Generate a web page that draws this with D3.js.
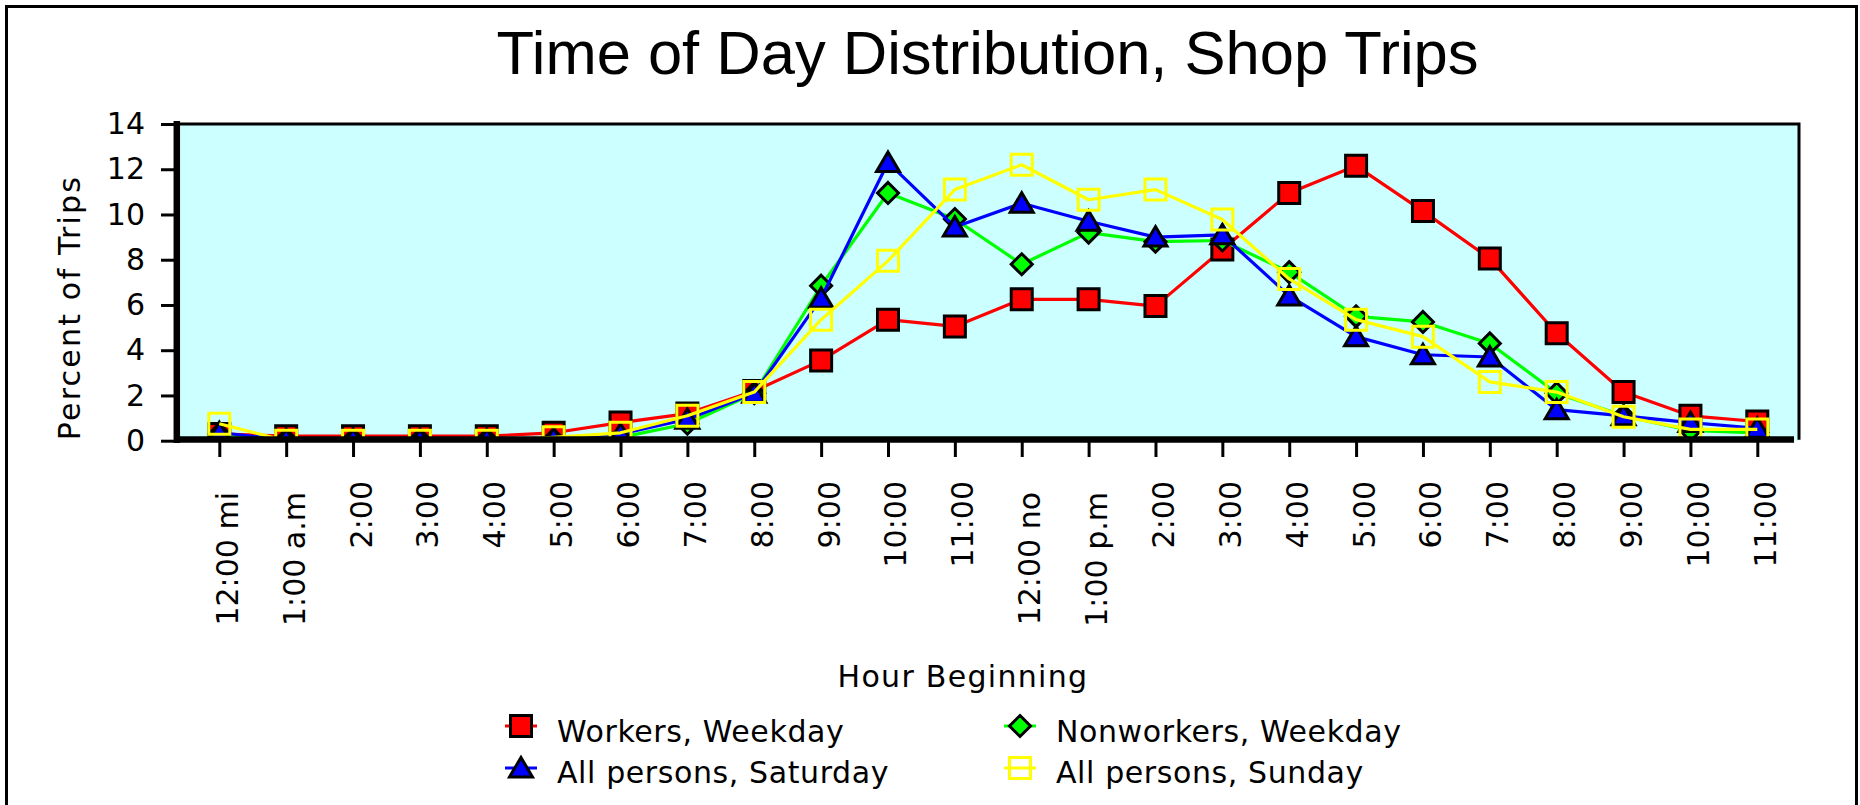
<!DOCTYPE html>
<html>
<head>
<meta charset="utf-8">
<script src="https://cdn.jsdelivr.net/npm/d3@7"></script>
<style>
  html, body { margin: 0; padding: 0; background: #fff; }
  svg { display: block; }
</style>
</head>
<body>
<svg id="chart" width="1860" height="805"></svg>
<script>
// ---------------- DATA ----------------
const hourLabels = ["12:00 mi","1:00 a.m","2:00","3:00","4:00","5:00","6:00","7:00","8:00","9:00","10:00","11:00",
                    "12:00 no","1:00 p.m","2:00","3:00","4:00","5:00","6:00","7:00","8:00","9:00","10:00","11:00"];
const workersWeekday    = [0.3, 0.2, 0.2, 0.2, 0.2, 0.35, 0.8, 1.2, 2.2, 3.55, 5.35, 5.05, 6.25, 6.25, 5.95, 8.45, 10.95, 12.15, 10.15, 8.05, 4.75, 2.15, 1.1, 0.85];
const nonworkersWeekday = [0.3, 0.05, 0.05, 0.05, 0.05, 0.05, 0.15, 0.75, 2.1, 6.85, 10.95, 9.8, 7.8, 9.2, 8.8, 8.85, 7.45, 5.5, 5.25, 4.3, 2.1, 1.1, 0.45, 0.35];
const allSaturday       = [0.35, 0.05, 0.05, 0.05, 0.05, 0.1, 0.3, 0.95, 2.1, 6.3, 12.3, 9.45, 10.5, 9.7, 9.0, 9.1, 6.4, 4.6, 3.8, 3.7, 1.37, 1.1, 0.8, 0.55];
const allSunday         = [0.75, 0.0, 0.0, 0.0, 0.0, 0.15, 0.35, 1.1, 2.15, 5.35, 7.95, 11.1, 12.2, 10.65, 11.1, 9.78, 7.15, 5.35, 4.6, 2.6, 2.15, 1.06, 0.5, 0.5];
const yTicks = [0, 2, 4, 6, 8, 10, 12, 14];
const seriesNames = ["Workers, Weekday", "Nonworkers, Weekday", "All persons, Saturday", "All persons, Sunday"];
const titleText = "Time of Day Distribution, Shop Trips";
const xTitle = "Hour Beginning";
const yTitle = "Percent of Trips";

const series = [
  { name: seriesNames[0], values: workersWeekday,    color: "#FF0000", shape: "square",  filled: true },
  { name: seriesNames[1], values: nonworkersWeekday, color: "#00FF00", shape: "diamond", filled: true },
  { name: seriesNames[2], values: allSaturday,       color: "#0000FF", shape: "triangle",filled: true },
  { name: seriesNames[3], values: allSunday,         color: "#FFFF00", shape: "square",  filled: false }
];

// ---------------- LAYOUT ----------------
const svg = d3.select("#chart");
const plot = { left: 177, right: 1799, top: 124, bottom: 440.7 };
const FONT = "'DejaVu Sans', Verdana, sans-serif";

const x = d3.scalePoint().domain(d3.range(hourLabels.length)).range([219.3, 1757.3]);
const y = d3.scaleLinear().domain([0, 14]).range([440.7, 124]);

// outer frame
svg.append("rect").attr("x", 6.5).attr("y", 6.5).attr("width", 1850).attr("height", 830)
  .attr("fill", "#fff").attr("stroke", "#000").attr("stroke-width", 3);

// title
svg.append("text").attr("x", 987.5).attr("y", 74).attr("text-anchor", "middle")
  .attr("font-family", "'Liberation Sans', Arial, sans-serif").attr("font-size", 61.5)
  .attr("fill", "#000").text(titleText);

// plot background
svg.append("rect").attr("x", plot.left).attr("y", plot.top)
  .attr("width", plot.right - plot.left).attr("height", plot.bottom - plot.top)
  .attr("fill", "#CCFFFF");

// clip for data
svg.append("defs").append("clipPath").attr("id", "plotclip")
  .append("rect").attr("x", plot.left).attr("y", plot.top - 20)
  .attr("width", plot.right - plot.left).attr("height", 442 - (plot.top - 20));

function symbolPath(shape) {
  if (shape === "square") return "M-10.5,-10.5H10.5V10.5H-10.5Z";
  if (shape === "diamond") return "M0,-10.5L10.5,0L0,10.5L-10.5,0Z";
  if (shape === "triangle") return "M0,-10.5L11.5,9L-11.5,9Z";
  return "";
}

const dataG = svg.append("g").attr("clip-path", "url(#plotclip)");
const line = d3.line().x((d, i) => x(i)).y(d => y(d));

series.forEach(s => {
  const g = dataG.append("g");
  g.append("path").datum(s.values).attr("d", line)
    .attr("fill", "none").attr("stroke", s.color).attr("stroke-width", 3.2)
    .attr("stroke-linejoin", "round");
  g.selectAll("path.mk").data(s.values).join("path").attr("class", "mk")
    .attr("transform", (d, i) => `translate(${x(i)},${y(d)})`)
    .attr("d", symbolPath(s.shape))
    .attr("fill", s.filled ? s.color : "none")
    .attr("stroke", s.filled ? "#000" : s.color)
    .attr("stroke-width", 3);
});

// plot frame top/right
svg.append("path").attr("d", `M${plot.left},${plot.top}H${plot.right}V${plot.bottom - 1}`)
  .attr("fill", "none").attr("stroke", "#000").attr("stroke-width", 3);

// axes
const yAxis = d3.axisLeft(y).tickValues(yTicks).tickSize(13).tickPadding(16).tickFormat(d3.format("d"));
const yG = svg.append("g").attr("transform", "translate(174,0)").call(yAxis);
yG.select(".domain").remove();
yG.selectAll(".tick line").attr("stroke", "#000").attr("stroke-width", 3);
yG.selectAll(".tick text").attr("font-family", FONT).attr("font-size", 30).attr("fill", "#000");

const xAxis = d3.axisBottom(x).tickSize(15).tickFormat(i => hourLabels[i]);
const xG = svg.append("g").attr("transform", "translate(0,442)").call(xAxis);
xG.select(".domain").remove();
xG.selectAll(".tick line").attr("stroke", "#000").attr("stroke-width", 3);
xG.selectAll(".tick text")
  .attr("font-family", FONT).attr("font-size", 30).attr("fill", "#000")
  .attr("text-anchor", "end").attr("transform", "rotate(-90)")
  .attr("x", i => /[a-z]$/.test(hourLabels[i]) ? -50 : -39).attr("y", 18).attr("dy", null);

// thick axis lines
svg.append("line").attr("x1", 176.8).attr("x2", 176.8).attr("y1", 121).attr("y2", 443)
  .attr("stroke", "#000").attr("stroke-width", 6.5);
svg.append("line").attr("x1", 174).attr("x2", 1794).attr("y1", 439.5).attr("y2", 439.5)
  .attr("stroke", "#000").attr("stroke-width", 6.5);

// axis titles
svg.append("text").attr("transform", "translate(80,307.5) rotate(-90)")
  .attr("text-anchor", "middle").attr("font-family", FONT).attr("font-size", 30)
  .attr("letter-spacing", 2.2).attr("fill", "#000").text(yTitle);
svg.append("text").attr("x", 963).attr("y", 687).attr("text-anchor", "middle")
  .attr("font-family", FONT).attr("font-size", 30).attr("letter-spacing", 1.3)
  .attr("fill", "#000").text(xTitle);

// legend
const legendPos = [
  { sx: 521, cy: 726, tx: 557, ty: 741.7 },
  { sx: 1020, cy: 726, tx: 1056, ty: 741.7 },
  { sx: 521, cy: 768, tx: 557, ty: 783.3 },
  { sx: 1020, cy: 768, tx: 1056, ty: 783.3 }
];
series.forEach((s, i) => {
  const p = legendPos[i];
  const g = svg.append("g");
  g.append("line").attr("x1", p.sx - 16).attr("x2", p.sx + 16).attr("y1", p.cy).attr("y2", p.cy)
    .attr("stroke", s.color).attr("stroke-width", 3);
  g.append("path").attr("transform", `translate(${p.sx},${p.cy})`).attr("d", symbolPath(s.shape))
    .attr("fill", s.filled ? s.color : "none")
    .attr("stroke", s.filled ? "#000" : s.color).attr("stroke-width", 3);
  g.append("text").attr("x", p.tx).attr("y", p.ty).attr("font-family", FONT).attr("font-size", 30)
    .attr("letter-spacing", 0.6).attr("fill", "#000").text(s.name);
});
</script>
</body>
</html>
